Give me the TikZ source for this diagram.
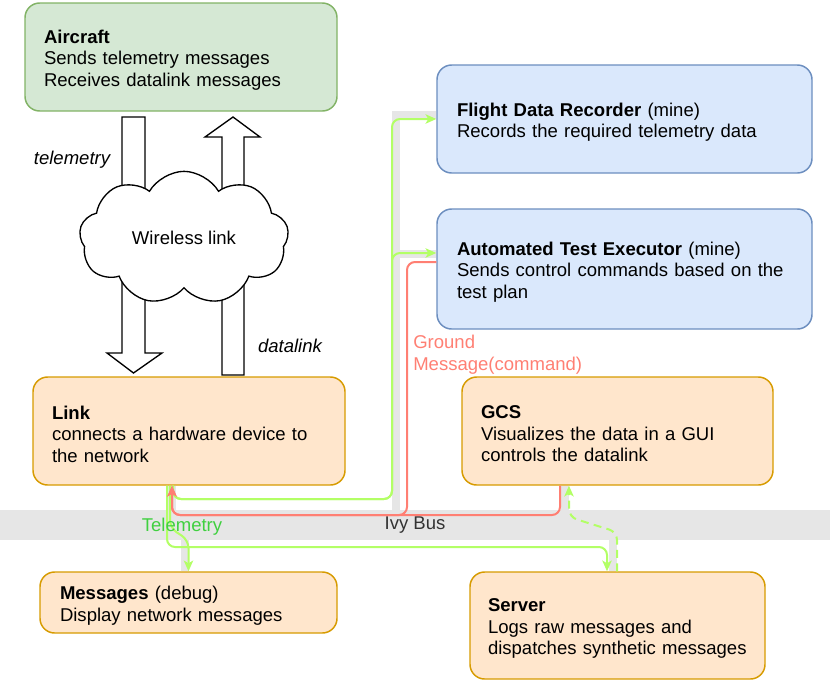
\documentclass[tikz,border=0pt]{standalone}
\usepackage{fontspec}
\setmainfont{Liberation Sans}
\usepackage{tikz}
\usetikzlibrary{arrows.meta, positioning, shapes.symbols, calc}

\definecolor{airfill}{HTML}{D5E8D4}
\definecolor{airline}{HTML}{82B366}
\definecolor{mfill}{HTML}{DAE8FC}
\definecolor{mline}{HTML}{6C8EBF}
\definecolor{pfill}{HTML}{FFE6CC}
\definecolor{pline}{HTML}{D79B00}
\definecolor{busgray}{HTML}{E6E6E6}
\definecolor{telegreen}{HTML}{B3FF66}
\definecolor{telelabel}{HTML}{40D040}
\definecolor{cmdred}{HTML}{FF7F73}
\newcommand{\diagfont}{\fontsize{13.9}{16.1}\selectfont}
\newcommand{\boxpad}{\endgraf\vspace*{-4.5pt}}

\begin{document}
\begin{tikzpicture}[x=0.75pt, y=-0.75pt,
    font=\diagfont,
    box/.style={rectangle, draw, rounded corners=11pt, line width=1.1pt, align=left, inner xsep=14.25pt, inner ysep=0pt,
        execute at end node=\boxpad},
    greenbox/.style={box, fill=airfill, draw=airline},
    bluebox/.style={box, fill=mfill, draw=mline},
    orangebox/.style={box, fill=pfill, draw=pline},
    busline/.style={draw=busgray, line width=6pt},
    blockarrow/.style={draw, fill=white, line width=1pt, line join=miter},
    tele/.style={draw=telegreen, line width=1.5pt, rounded corners=6pt, -{Stealth[length=8pt, width=7pt, inset=2pt]}},
    cmd/.style={draw=cmdred, line width=1.5pt, rounded corners=6pt, -{Stealth[length=8pt, width=7pt, inset=2pt]}}
]
\useasboundingbox (0,0) rectangle (830,682);

% Ivy bus
\node[fill=busgray, minimum width=622.5pt, minimum height=22.5pt, inner sep=0pt, text=black!80] (bus) at (415,525) {Ivy Bus};

% Boxes
\node[greenbox, minimum width=234pt, minimum height=81pt, text width=205.5pt] (air) at (181,57)
    {\textbf{Aircraft}\\Sends telemetry messages\\Receives datalink messages};
\node[bluebox, minimum width=281.25pt, minimum height=81pt, text width=251.25pt] (fdr) at (624.5,119)
    {\textbf{Flight Data Recorder} (mine)\\Records the required telemetry data};
\node[bluebox, minimum width=281.25pt, minimum height=90pt, text width=251.25pt] (ate) at (624.5,269)
    {\textbf{Automated Test Executor} (mine)\\Sends control commands based on the\\test plan};
\node[orangebox, minimum width=234pt, minimum height=81pt, text width=205.5pt] (link) at (189,431)
    {\textbf{Link}\\connects a hardware device to\\the network};
\node[orangebox, minimum width=233.25pt, minimum height=81pt, text width=204.75pt] (gcs) at (617.5,431)
    {\textbf{GCS}\\Visualizes the data in a GUI\\controls the datalink};
\node[orangebox, minimum width=222.75pt, minimum height=45.75pt, text width=192.75pt] (msg) at (188.5,602.5)
    {\textbf{Messages} (debug)\\Display network messages};
\node[orangebox, minimum width=221.25pt, minimum height=80.25pt, inner xsep=13.5pt, text width=194.25pt] (server) at (617.5,625.5)
    {\textbf{Server}\\Logs raw messages and\\dispatches~synthetic~messages};

% Bus taps
\draw[busline] (bus.north -| 396,0) -- (396,115) -- ($(fdr.west)+(0,-4)$);
\draw[busline] (396,254) -- ($(ate.west)+(0,-15)$);
\draw[busline] ($(link.south)+(-17,0)$) -- ($(link.south)+(-17,25)$);
\draw[busline] ($(msg.north)+(-3.5,0)$) -- ($(msg.north)+(-3.5,-32)$);
\draw[busline] ($(gcs.south)+(-52.5,0)$) -- ($(gcs.south)+(-52.5,25)$);
\draw[busline] ($(server.north)+(-4.5,0)$) -- ($(server.north)+(-4.5,-32)$);

% Wireless link
\draw[blockarrow] (122,117) -- (145,117) -- (145,353) -- (162,353) -- (133.5,373) -- (107,353) -- (122,353) -- cycle;
\draw[blockarrow] (222,375) -- (244,375) -- (244,137) -- (260,137) -- (233,117) -- (205,137) -- (222,137) -- cycle;
\node[cloud, draw, fill=white, line width=1pt, cloud puffs=9, cloud puff arc=120, aspect=1.6,
      minimum width=157pt, minimum height=100pt, inner sep=0pt] (wl) at (184,238) {Wireless link};
\node[font=\diagfont\itshape] (tmlab) at (72,160) {telemetry};
\node[font=\diagfont\itshape] (dllab) at (290,346) {datalink};

% Telemetry
\draw[tele] ($(link.south)+(-16,0)$) |- (392,499) -- (392,119) -- (fdr.west);
\draw[tele] ($(link.south)+(-16,0)$) |- (392,499) -- (392,253) -- ($(ate.west)+(0,-16)$);
\draw[tele] ($(link.south)+(-19,0)$) -- (170,528) -- (188.5,540) -- (msg.north);
\draw[tele] ($(link.south)+(-22,0)$) |- (607,547) -- ($(server.north)+(-10.5,0)$);
\draw[tele, dash pattern=on 6pt off 4pt] ($(server.north)+(-0.5,0)$) -- (617,532) -- (569,517) -- ($(gcs.south)+(-48.5,0)$);
\node[text=telelabel] (telab) at (182,527) {Telemetry};

% Commands
\draw[cmd] ($(ate.west)+(0,-7)$) -| (407,515) -| ($(link.south)+(-17,0)$);
\draw[cmd] ($(gcs.south)+(-57.5,0)$) |- (172,515) -- ($(link.south)+(-17,0)$);
\node[text=cmdred, align=left, anchor=base west, inner sep=0pt] (gmlab) at (413,370) {Ground\\Message(command)};

\end{tikzpicture}
\end{document}
